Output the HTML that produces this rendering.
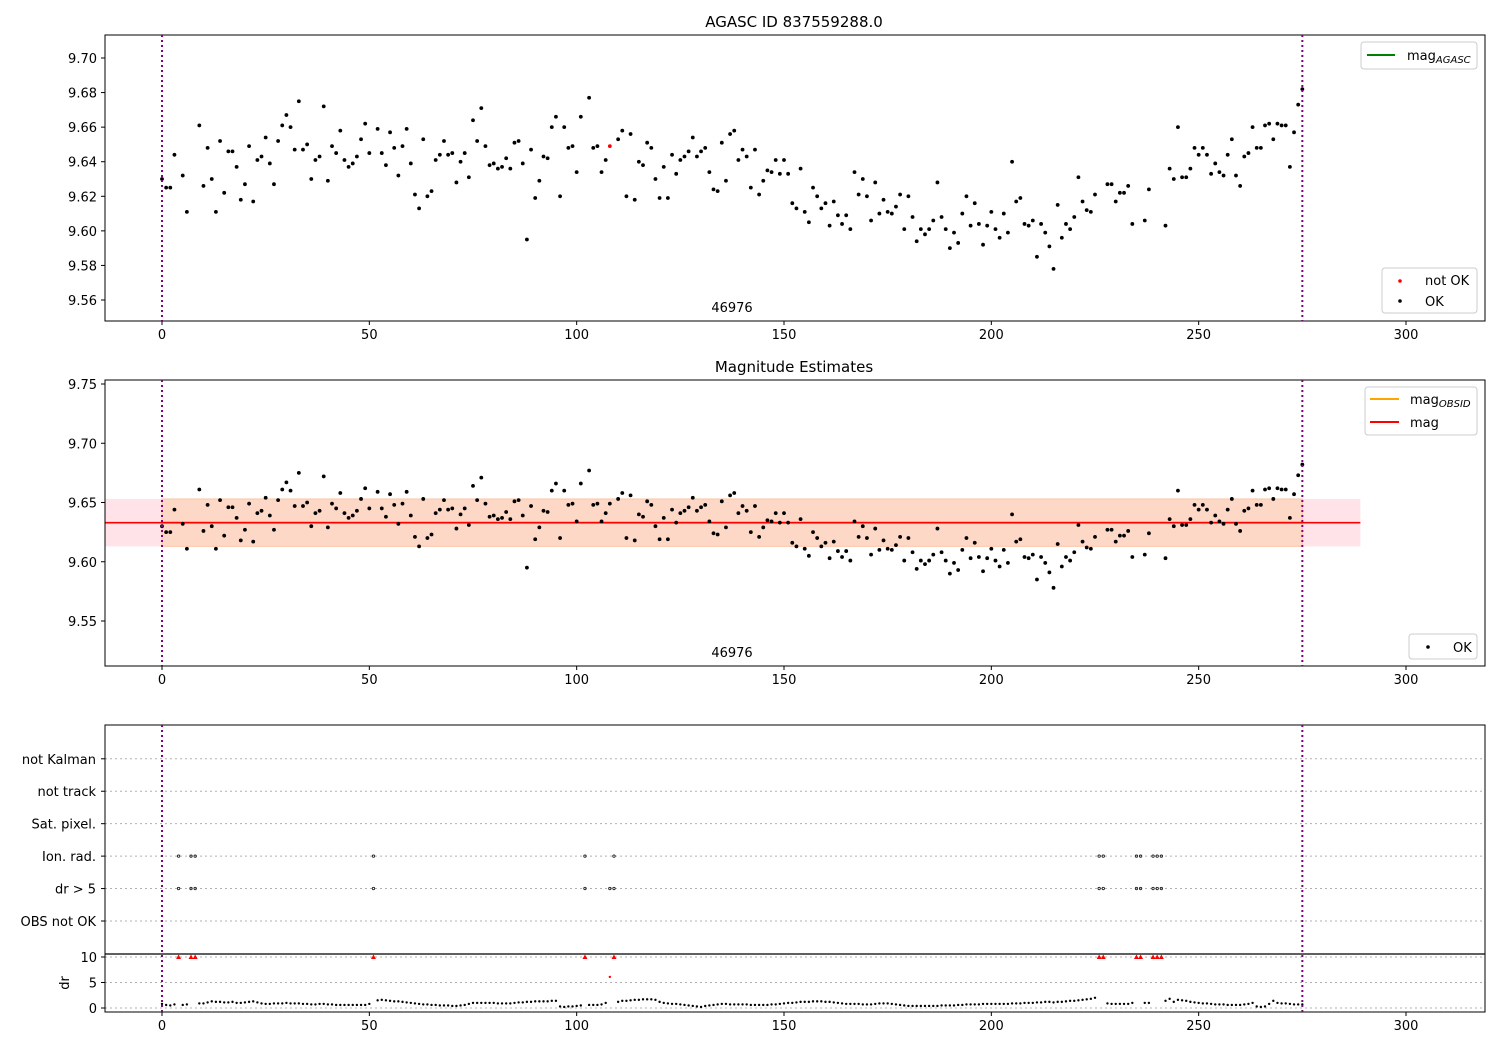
<!DOCTYPE html>
<html><head><meta charset="utf-8">
<style>
html,body{margin:0;padding:0;background:#fff;}
svg{display:block;font-family:"DejaVu Sans","Liberation Sans",sans-serif;}
text{fill:#000;}
</style></head>
<body>
<svg id="fig" width="1500" height="1050" viewBox="0 0 1500 1050" xmlns="http://www.w3.org/2000/svg">
<rect width="1500" height="1050" fill="#fff"/>
<text x="794" y="27" font-size="15" text-anchor="middle">AGASC ID 837559288.0</text>
<text x="794" y="372" font-size="15" text-anchor="middle">Magnitude Estimates</text>
<g id="p1"></g>
<g id="p2"></g>
<g id="p3"></g>
</svg>
<script>
// ---- data ----
const okIdx = [0,1,2,3,5,6,9,10,11,12,13,14,15,16,17,18,19,20,21,22,23,24,25,26,27,28,29,30,31,32,33,34,35,36,37,38,39,40,41,42,43,44,45,46,47,48,49,50,52,53,54,55,56,57,58,59,60,61,62,63,64,65,66,67,68,69,
70,71,72,73,74,75,76,77,78,79,80,81,82,83,84,85,86,87,88,89,90,91,92,93,94,95,96,97,98,99,100,101,103,104,105,106,107,110,111,112,113,114,115,116,117,118,119,120,121,122,123,124,125,126,127,128,129,130,131,132,133,134,135,136,137,138,139,
140,141,142,143,144,145,146,147,148,149,150,151,152,153,154,155,156,157,158,159,160,161,162,163,164,165,166,167,168,169,170,171,172,173,174,175,176,177,178,179,180,181,182,183,184,185,186,187,188,189,190,191,192,193,194,195,196,197,198,199,200,201,202,203,204,205,206,207,208,209,
210,211,212,213,214,215,216,217,218,219,220,221,222,223,224,225,228,229,230,231,232,233,234,237,238,242,243,244,245,246,247,248,249,250,251,252,253,254,255,256,257,258,259,260,261,262,263,264,265,266,267,268,269,270,271,272,273,274,275];
const okMag = [9.630,9.625,9.625,9.644,9.632,9.611,9.661,9.626,9.648,9.630,9.611,9.652,9.622,9.646,9.646,9.637,9.618,9.627,9.649,9.617,9.641,9.643,9.654,9.639,9.627,9.652,9.661,9.667,9.660,9.647,9.675,9.647,9.650,9.630,9.641,9.643,9.672,9.629,9.649,9.645,9.658,9.641,9.637,9.639,9.643,9.653,9.662,9.645,9.659,9.645,9.638,9.657,9.648,9.632,9.649,9.659,9.639,9.621,9.613,9.653,9.620,9.623,9.641,9.644,9.652,9.644,
9.645,9.628,9.640,9.645,9.631,9.664,9.652,9.671,9.649,9.638,9.639,9.636,9.637,9.642,9.636,9.651,9.652,9.639,9.595,9.647,9.619,9.629,9.643,9.642,9.660,9.666,9.620,9.660,9.648,9.649,9.634,9.666,9.677,9.648,9.649,9.634,9.641,9.653,9.658,9.620,9.656,9.618,9.640,9.638,9.651,9.648,9.630,9.619,9.637,9.619,9.644,9.633,9.641,9.643,9.646,9.654,9.643,9.646,9.648,9.634,9.624,9.623,9.651,9.629,9.656,9.658,9.641,
9.647,9.643,9.625,9.647,9.621,9.629,9.635,9.634,9.641,9.633,9.641,9.633,9.616,9.613,9.636,9.611,9.605,9.625,9.620,9.613,9.616,9.603,9.617,9.609,9.604,9.609,9.601,9.634,9.621,9.630,9.620,9.606,9.628,9.610,9.618,9.611,9.610,9.614,9.621,9.601,9.620,9.608,9.594,9.601,9.598,9.601,9.606,9.628,9.608,9.601,9.590,9.599,9.593,9.610,9.620,9.603,9.616,9.604,9.592,9.603,9.611,9.601,9.596,9.610,9.599,9.640,9.617,9.619,9.604,9.603,
9.606,9.585,9.604,9.599,9.591,9.578,9.615,9.596,9.604,9.601,9.608,9.631,9.617,9.612,9.611,9.621,9.627,9.627,9.617,9.622,9.622,9.626,9.604,9.606,9.624,9.603,9.636,9.630,9.660,9.631,9.631,9.636,9.648,9.644,9.648,9.644,9.633,9.639,9.634,9.632,9.644,9.653,9.632,9.626,9.643,9.645,9.660,9.648,9.648,9.661,9.662,9.653,9.662,9.661,9.661,9.637,9.657,9.673,9.682];
const notOkIdx = [108];
const notOkMag = [9.649];
const okDr = [0.8,0.6,0.5,0.7,0.6,0.7,0.9,0.9,1.1,1.3,1.2,1.2,1.1,1.1,1.2,1.0,1.0,1.1,1.2,1.3,1.1,0.9,0.8,0.8,0.9,0.9,0.9,1.0,0.9,0.9,0.9,0.8,0.8,0.7,0.7,0.8,0.8,0.7,0.7,0.6,0.6,0.6,0.6,0.6,0.6,0.6,0.6,0.8,1.5,1.6,1.5,1.4,1.3,1.3,1.2,1.1,1.0,0.9,0.8,0.7,0.7,0.6,0.6,0.5,0.5,0.5,
0.4,0.4,0.5,0.6,0.8,1.0,1.0,1.0,1.0,1.0,1.0,0.9,0.9,0.9,0.9,1.0,1.1,1.1,1.2,1.2,1.3,1.3,1.3,1.3,1.4,1.4,0.3,0.2,0.3,0.3,0.4,0.5,0.6,0.6,0.6,0.7,1.0,1.2,1.4,1.4,1.5,1.6,1.6,1.7,1.7,1.7,1.6,1.2,1.0,0.9,0.8,0.8,0.7,0.6,0.5,0.4,0.3,0.2,0.4,0.5,0.6,0.7,0.8,0.8,0.7,0.7,0.7,
0.7,0.7,0.6,0.6,0.6,0.6,0.6,0.7,0.7,0.8,0.9,1.0,1.0,1.1,1.2,1.2,1.2,1.3,1.3,1.3,1.2,1.2,1.1,1.0,0.9,0.8,0.8,0.8,0.8,0.7,0.7,0.7,0.8,0.9,0.9,0.9,0.8,0.7,0.6,0.5,0.4,0.4,0.4,0.4,0.4,0.4,0.4,0.4,0.5,0.5,0.5,0.5,0.6,0.6,0.7,0.7,0.7,0.7,0.8,0.8,0.8,0.8,0.8,0.8,0.8,0.9,0.9,0.9,1.0,1.0,
1.0,1.1,1.1,1.2,1.2,1.1,1.2,1.2,1.3,1.4,1.4,1.5,1.6,1.7,1.8,2.0,0.9,0.8,0.8,0.8,0.8,0.8,1.0,1.0,1.0,1.4,1.8,1.2,1.6,1.5,1.4,1.2,1.1,1.0,0.9,0.9,0.8,0.7,0.7,0.7,0.6,0.6,0.6,0.6,0.7,0.8,1.0,0.3,0.2,0.3,0.8,1.4,1.0,0.9,0.9,0.8,0.7,0.7,0.7];
const clipIdx = [4,7,8,51,102,109,226,227,235,236,239,240,241];
const redDrIdx = [108];
const redDrVal = [6.1];
const ionIdx = [4,7,8,51,102,109,226,227,235,236,239,240,241];
const drGt5Idx = [4,7,8,51,102,108,109,226,227,235,236,239,240,241];
const flagLabels = ["OBS not OK","dr > 5","Ion. rad.","Sat. pixel.","not track","not Kalman"];
const xTicks = [0,50,100,150,200,250,300];
const y1Ticks = [9.56,9.58,9.60,9.62,9.64,9.66,9.68,9.70];
const y2Ticks = [9.55,9.60,9.65,9.70,9.75];
const drTicks = [0,5,10];
const magMean = [9.633];
const bandOuter = [9.613,9.653];
const obsRange = [0,275];
const fitRange = [-13.7,289];

// ---- helpers ----
const NS="http://www.w3.org/2000/svg";
function mk(parent,tag,attrs){const e=document.createElementNS(NS,tag);for(const k in attrs)e.setAttribute(k,attrs[k]);parent.appendChild(e);return e;}
const L=105,R=1485;
function X(v){return 162+(v-0)*(1244/300);}
function Y1(v){return 58+(9.70-v)*1728.6;}
function Y2(v){return 384+(9.75-v)*1185;}
function YF(i){return 921-i*32.44;}
function YD(v){return 1008-v*5.1;}
function fmt(v,d){return v.toFixed(d);}

function frame(g,top,bot){
  const r=mk(g,'rect',{x:L,y:top,width:R-L,height:bot-top,fill:'none',stroke:'#000','stroke-width':1});
  
  xTicks.forEach(t=>{
    const l=mk(g,'line',{x1:X(t),x2:X(t),y1:bot,y2:bot+4,stroke:'#000'});
    
    const tx=mk(g,'text',{x:X(t),y:bot+18,'font-size':13,'text-anchor':'middle'});
    tx.textContent=t;
    
  });
}
function vlines(g,top,bot){
  obsRange.forEach(v=>{
    const l=mk(g,'line',{x1:X(v),x2:X(v),y1:top,y2:bot,stroke:'#800080','stroke-width':2,'stroke-dasharray':'2,3'});
    
  });
}
function yTicks(g,ticks,fn,d){
  ticks.forEach(t=>{
    const l=mk(g,'line',{x1:L-4,x2:L,y1:fn(t),y2:fn(t),stroke:'#000'});
    
    const tx=mk(g,'text',{x:L-8,y:fn(t)+5,'font-size':13,'text-anchor':'end'});
    tx.textContent=fmt(t,d);
    
  });
}
function dot(g,x,y,r,c,name){const e=mk(g,'circle',{cx:x,cy:y,r:r,fill:c});return e;}
function legendBox(g,x,y,w,h){const r=mk(g,'rect',{x:x,y:y,width:w,height:h,rx:3,fill:'#fff','fill-opacity':0.8,stroke:'#ccc'});}
function txt(g,x,y,s,size,name,anchor){const t=mk(g,'text',{x:x,y:y,'font-size':size,'text-anchor':anchor||'start'});t.textContent=s;return t;}

// ---- panel 1 ----
const p1=document.getElementById('p1');
frame(p1,35,321);
yTicks(p1,y1Ticks,Y1,2);
okIdx.forEach((ix,i)=>{dot(p1,X(ix),Y1(okMag[i]),1.9,'#000','ok-point');});
notOkIdx.forEach((ix,i)=>{dot(p1,X(ix),Y1(notOkMag[i]),1.9,'#f00','not-ok-point');});
vlines(p1,35,321);
txt(p1,732,312,'46976',13,'obsid-label','middle');
legendBox(p1,1361,42,116,27);
{const l=mk(p1,'line',{x1:1367,x2:1395,y1:55,y2:55,stroke:'#008000','stroke-width':2});}
{const t=txt(p1,1407,60,'mag',13,'legend-agasc-label');const s=document.createElementNS(NS,'tspan');s.setAttribute('font-size','10');s.setAttribute('font-style','italic');s.setAttribute('dy','3');s.textContent='AGASC';t.appendChild(s);}
legendBox(p1,1382,268,95,45);
dot(p1,1400,281,1.8,'#f00','legend-not-ok-marker');
txt(p1,1425,285,'not OK',13,'legend-not-ok-label');
dot(p1,1400,301,1.8,'#000','legend-ok-marker');
txt(p1,1425,306,'OK',13,'legend-ok-label');

// ---- panel 2 ----
const p2=document.getElementById('p2');
{const r=mk(p2,'rect',{x:X(fitRange[0]),y:Y2(bandOuter[1]),width:X(fitRange[1])-X(fitRange[0]),height:Y2(bandOuter[0])-Y2(bandOuter[1]),fill:'#ffe3e8'});}
{const r=mk(p2,'rect',{x:X(obsRange[0]),y:Y2(bandOuter[1]),width:X(obsRange[1])-X(obsRange[0]),height:Y2(bandOuter[0])-Y2(bandOuter[1]),fill:'#fdd8c6',stroke:'#fbc6a8','stroke-width':1});}
{const l=mk(p2,'line',{x1:X(obsRange[0]),x2:X(obsRange[1]),y1:Y2(magMean[0]),y2:Y2(magMean[0]),stroke:'#ffa500','stroke-width':2});}
{const l=mk(p2,'line',{x1:X(fitRange[0]),x2:X(fitRange[1]),y1:Y2(magMean[0]),y2:Y2(magMean[0]),stroke:'#f00','stroke-width':1.6});}
frame(p2,380,666);
yTicks(p2,y2Ticks,Y2,2);
okIdx.forEach((ix,i)=>{dot(p2,X(ix),Y2(okMag[i]),1.9,'#000','ok-point');});
notOkIdx.forEach((ix,i)=>{dot(p2,X(ix),Y2(notOkMag[i]),1.9,'#000','ok-point');});
vlines(p2,380,666);
txt(p2,732,657,'46976',13,'obsid-label','middle');
legendBox(p2,1365,387,112,48);
{const l=mk(p2,'line',{x1:1370,x2:1399,y1:399,y2:399,stroke:'#ffa500','stroke-width':2});}
{const t=txt(p2,1410,404,'mag',13,'legend-obsid-label');const s=document.createElementNS(NS,'tspan');s.setAttribute('font-size','10');s.setAttribute('font-style','italic');s.setAttribute('dy','3');s.textContent='OBSID';t.appendChild(s);}
{const l=mk(p2,'line',{x1:1370,x2:1399,y1:422,y2:422,stroke:'#f00','stroke-width':2});}
txt(p2,1410,427,'mag',13,'legend-mag-label');
legendBox(p2,1409,634,68,25);
dot(p2,1428,647,1.8,'#000','legend-ok-marker');
txt(p2,1453,652,'OK',13,'legend-ok-label');

// ---- panel 3 ----
const p3=document.getElementById('p3');
flagLabels.forEach((lab,i)=>{
  const l=mk(p3,'line',{x1:L,x2:R,y1:YF(i),y2:YF(i),stroke:'#b0b0b0','stroke-dasharray':'2,3'});
  
  const t=mk(p3,'line',{x1:L-4,x2:L,y1:YF(i),y2:YF(i),stroke:'#000'});
  
  txt(p3,L-9,YF(i)+5,lab,13,'flag-label','end');
});
drTicks.forEach(v=>{
  const l=mk(p3,'line',{x1:L,x2:R,y1:YD(v),y2:YD(v),stroke:'#b0b0b0','stroke-dasharray':'2,3'});
  
});
yTicks(p3,drTicks,YD,0);
{const t=txt(p3,0,0,'dr',13,'dr-axis-title','middle');t.setAttribute('transform','translate(69,983) rotate(-90)');}
{const l=mk(p3,'line',{x1:L,x2:R,y1:954,y2:954,stroke:'#000','stroke-width':1.2});}
frame(p3,725,1012);
ionIdx.forEach(ix=>{const c=mk(p3,'circle',{cx:X(ix),cy:YF(2),r:1.2,fill:'none',stroke:'#222','stroke-width':0.9});});
drGt5Idx.forEach(ix=>{const c=mk(p3,'circle',{cx:X(ix),cy:YF(1),r:1.2,fill:'none',stroke:'#222','stroke-width':0.9});});
okIdx.forEach((ix,i)=>{if(okDr[i]===undefined)return;dot(p3,X(ix),YD(okDr[i]),1.2,'#000','dr-point');});
redDrIdx.forEach((ix,i)=>{dot(p3,X(ix),YD(redDrVal[i]),1.2,'#f00','dr-not-ok-point');});
clipIdx.forEach(ix=>{
  const x=X(ix),y=YD(10);
  const p=mk(p3,'polygon',{points:`${x-2.5},${y+2} ${x+2.5},${y+2} ${x},${y-2.5}`,fill:'#f00'});
  
});
vlines(p3,725,1012);
</script>
</body></html>
